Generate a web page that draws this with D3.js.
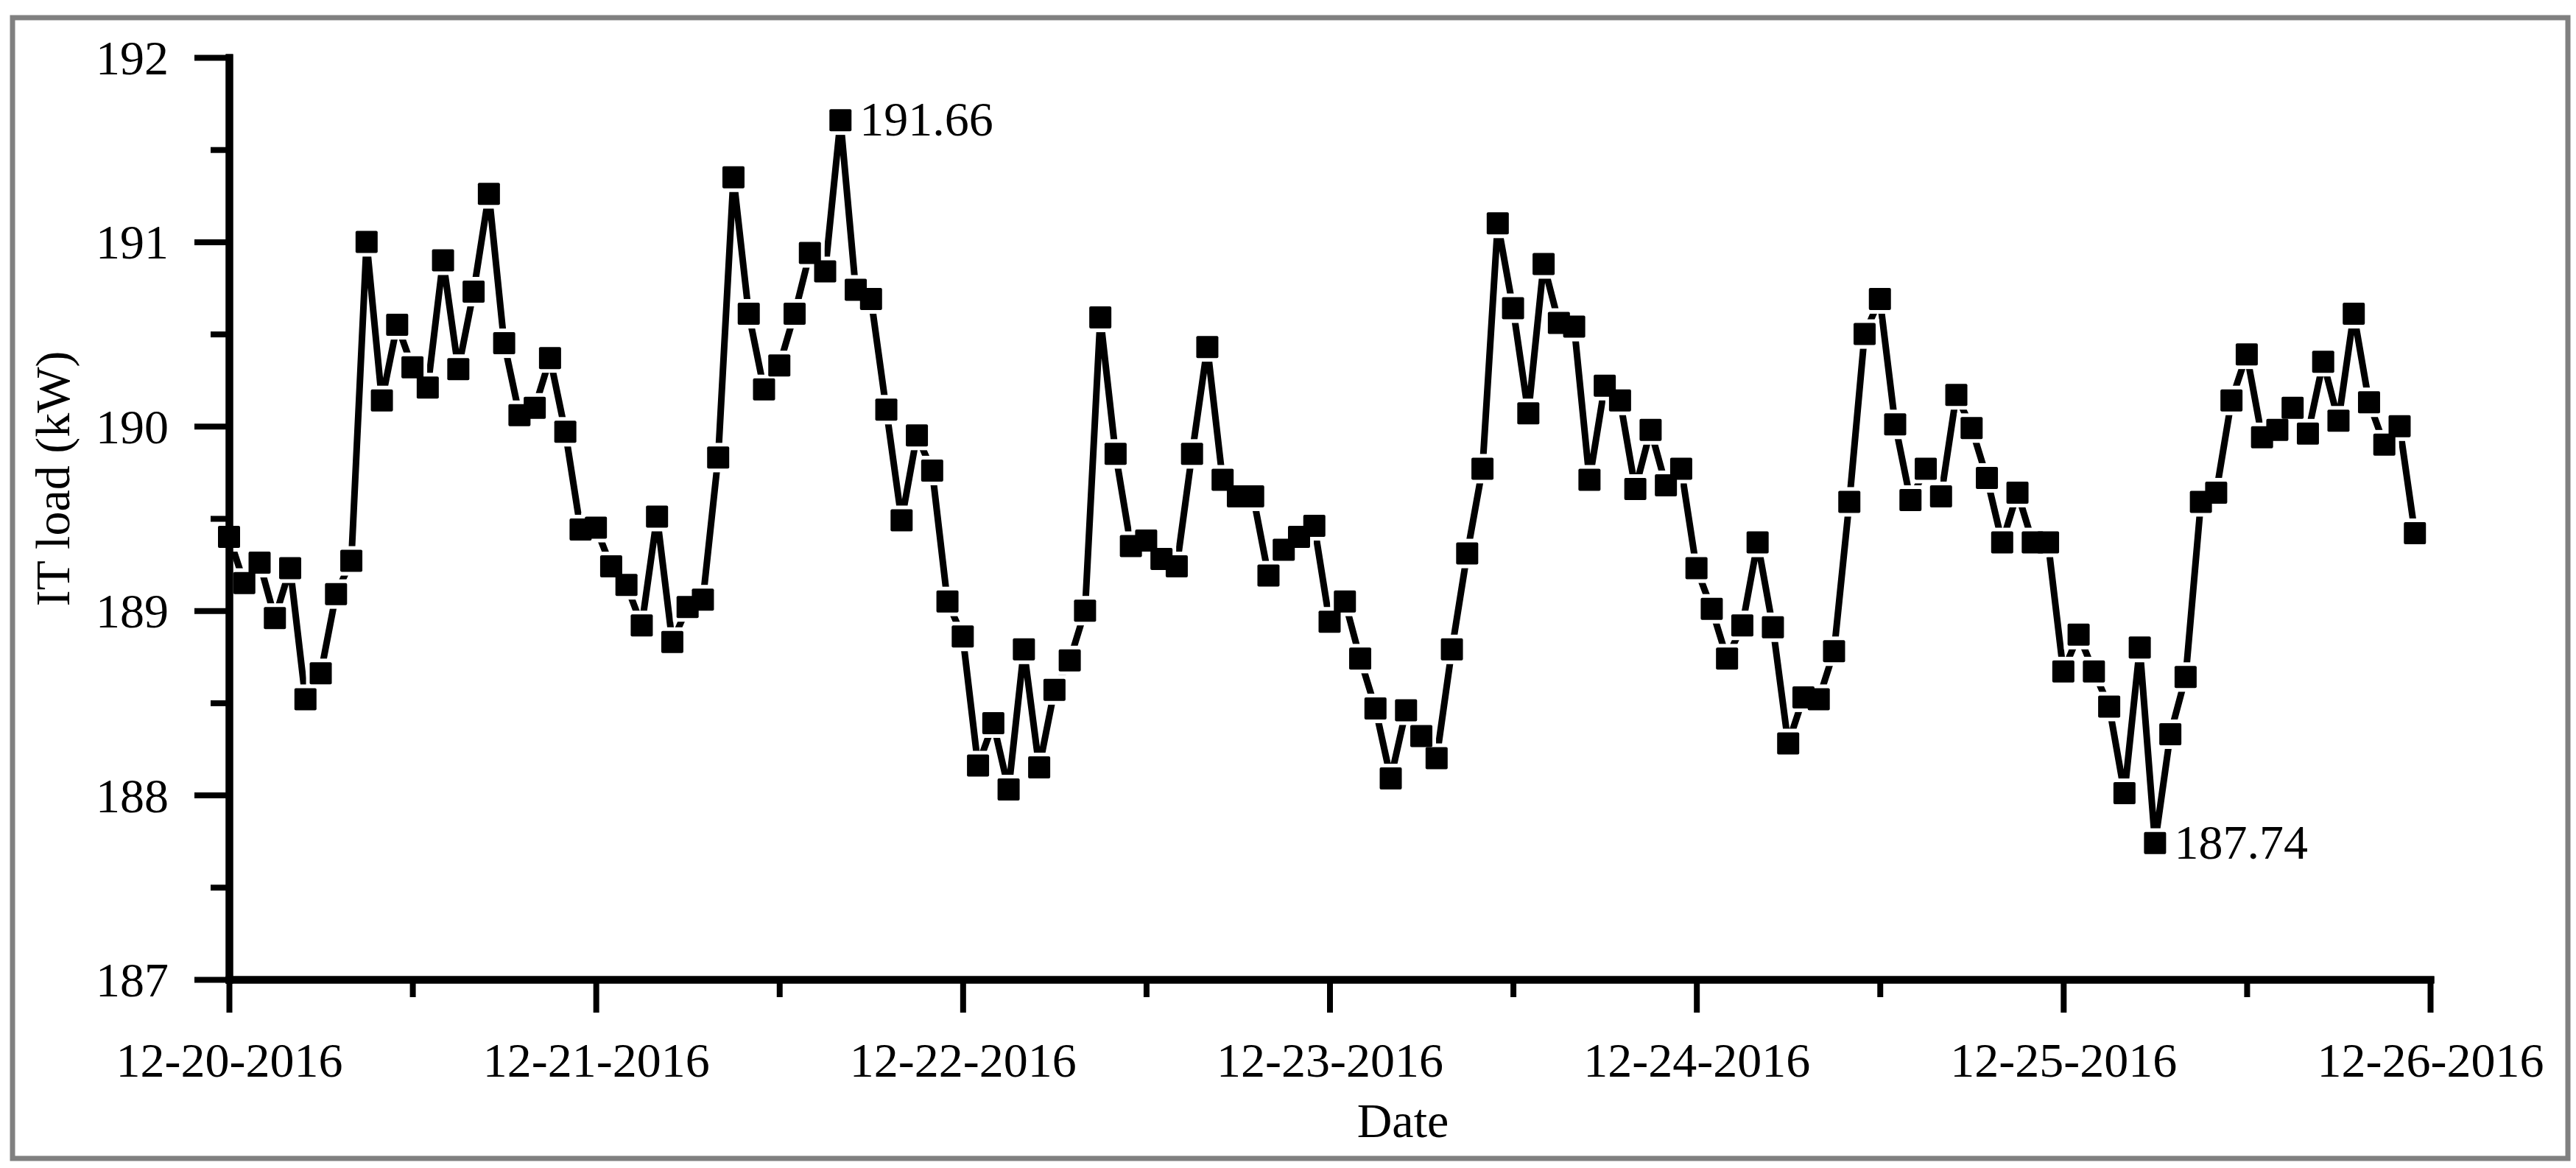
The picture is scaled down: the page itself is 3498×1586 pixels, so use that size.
<!DOCTYPE html>
<html>
<head>
<meta charset="utf-8">
<script src="https://cdn.jsdelivr.net/npm/d3@7"></script>
<style>
  html, body { margin: 0; padding: 0; background: #fff; }
  svg { display: block; }
  text { font-family: "Liberation Serif", "Times New Roman", serif; fill: #000; }
</style>
</head>
<body>
<svg id="chart" width="3498" height="1586"></svg>
<script>
// ---- data ----
const startDate = "2016-12-20T00:00:00";
const endDate = "2016-12-26T00:00:00";
const itLoad = [
  189.40, 189.15, 189.26, 188.96, 189.23, 188.52, 188.66, 189.09, 189.27, 191.00,
  190.14, 190.55, 190.32, 190.21, 190.90, 190.31, 190.73, 191.26, 190.45, 190.06,
  190.10, 190.37, 189.97, 189.44, 189.45, 189.24, 189.14, 188.92, 189.51, 188.83,
  189.02, 189.06, 189.83, 191.35, 190.61, 190.20, 190.33, 190.61, 190.94, 190.84,
  191.66, 190.74, 190.69, 190.09, 189.49, 189.95, 189.76, 189.05, 188.86, 188.16,
  188.39, 188.03, 188.79, 188.15, 188.57, 188.73, 189.00, 190.59, 189.85, 189.35,
  189.38, 189.28, 189.24, 189.85, 190.43, 189.71, 189.62, 189.62, 189.19, 189.33,
  189.40, 189.46, 188.94, 189.05, 188.74, 188.47, 188.09, 188.46, 188.32, 188.20,
  188.79, 189.31, 189.77, 191.10, 190.64, 190.07, 190.88, 190.56, 190.54, 189.71,
  190.22, 190.14, 189.66, 189.98, 189.68, 189.77, 189.23, 189.01, 188.74, 188.92,
  189.37, 188.91, 188.28, 188.53, 188.52, 188.78, 189.59, 190.50, 190.69, 190.01,
  189.60, 189.77, 189.62, 190.17, 189.99, 189.72, 189.37, 189.64, 189.37, 189.37,
  188.67, 188.87, 188.67, 188.48, 188.01, 188.80, 187.74, 188.33, 188.64, 189.59,
  189.64, 190.14, 190.39, 189.94, 189.98, 190.10, 189.96, 190.35, 190.03, 190.61,
  190.13, 189.90, 190.00, 189.42
];
const yMajorTicks = [187, 188, 189, 190, 191, 192];
const yMinorTicks = [187.5, 188.5, 189.5, 190.5, 191.5];
const annotations = [ { index: 40, label: "191.66" }, { index: 126, label: "187.74" } ];
const xTitle = "Date";
const yTitle = "IT load (kW)";

// ---- layout ----
const svg = d3.select("#chart");
const plotLeft = 311, plotRight = 3300, plotTop = 78, plotBottom = 1330;

const t0 = new Date(startDate), t1 = new Date(endDate);
const points = itLoad.map((v, i) => ({ t: d3.timeHour.offset(t0, i), v }));

const x = d3.scaleTime().domain([t0, t1]).range([plotLeft, plotRight]);
const y = d3.scaleLinear().domain([187, 192]).range([plotBottom, plotTop]);

// outer frame
svg.append("rect")
  .attr("x", 17).attr("y", 24).attr("width", 3470).attr("height", 1549)
  .attr("fill", "none").attr("stroke", "#808080").attr("stroke-width", 7);

// line
svg.append("path")
  .datum(points)
  .attr("fill", "none")
  .attr("stroke", "#000")
  .attr("stroke-width", 9)
  .attr("stroke-linejoin", "round")
  .attr("stroke-linecap", "round")
  .attr("d", d3.line().x(d => x(d.t)).y(d => y(d.v)));

const ms = 30, gap = 5;
// white halos make the gap between line and symbols
svg.append("g").selectAll("rect").data(points).join("rect")
  .attr("x", d => x(d.t) - ms / 2 - gap)
  .attr("y", d => y(d.v) - ms / 2 - gap)
  .attr("width", ms + 2 * gap).attr("height", ms + 2 * gap)
  .attr("fill", "#fff");
svg.append("g").selectAll("rect").data(points).join("rect")
  .attr("x", d => x(d.t) - ms / 2)
  .attr("y", d => y(d.v) - ms / 2)
  .attr("width", ms).attr("height", ms)
  .attr("rx", 2)
  .attr("fill", "#000");

// annotations
svg.append("g").selectAll("text").data(annotations).join("text")
  .attr("x", d => x(points[d.index].t) + 26)
  .attr("y", d => y(points[d.index].v) + 21)
  .attr("font-size", 66)
  .text(d => d.label);

// ---- axes ----
const fmt = d3.timeFormat("%m-%d-%Y");
const xMajor = d3.axisBottom(x).ticks(d3.timeDay.every(1)).tickFormat(fmt)
  .tickSizeInner(45).tickSizeOuter(0).tickPadding(40);
const xMinor = d3.axisBottom(x).tickValues(d3.timeDay.range(t0, t1).map(d => d3.timeHour.offset(d, 12)))
  .tickFormat("").tickSizeInner(24).tickSizeOuter(0);

const gxMinor = svg.append("g").attr("transform", `translate(0,${plotBottom})`).call(xMinor);
const gx = svg.append("g").attr("transform", `translate(0,${plotBottom})`).call(xMajor);

const yMajor = d3.axisLeft(y).tickValues(yMajorTicks).tickFormat(d3.format("d"))
  .tickSizeInner(47).tickSizeOuter(0).tickPadding(35);
const yMinor = d3.axisLeft(y).tickValues(yMinorTicks).tickFormat("")
  .tickSizeInner(25).tickSizeOuter(0);
const gyMinor = svg.append("g").attr("transform", `translate(${plotLeft},0)`).call(yMinor);
const gy = svg.append("g").attr("transform", `translate(${plotLeft},0)`).call(yMajor);

[gx, gy, gxMinor, gyMinor].forEach(g => {
  g.select(".domain").attr("stroke", "#000").attr("stroke-width", 10).attr("stroke-linecap", "square");
  g.selectAll(".tick line").attr("stroke", "#000").attr("stroke-width", 8);
  g.selectAll(".tick text").attr("font-family", "Liberation Serif").attr("font-size", 66).attr("fill", "#000");
});
gy.selectAll(".tick text").attr("dy", "0.34em");

// axis titles
svg.append("text")
  .attr("x", 1905).attr("y", 1544)
  .attr("text-anchor", "middle").attr("font-size", 66)
  .text(xTitle);
svg.append("text")
  .attr("transform", "translate(94,650) rotate(-90)")
  .attr("text-anchor", "middle").attr("font-size", 66)
  .text(yTitle);
</script>
</body>
</html>
